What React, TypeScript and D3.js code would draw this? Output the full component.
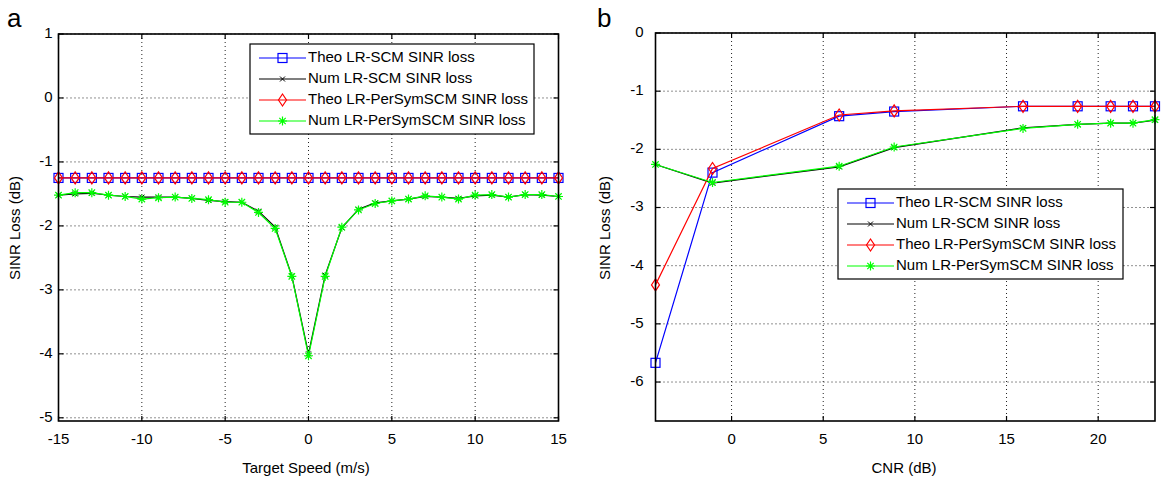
import React from "react";
import * as d3 from "d3";

// panel a: SINR loss vs target speed
const speeds = d3.range(-15, 16);
const theoA = speeds.map(() => -1.25);
const numScmA = [-1.52, -1.5, -1.49, -1.52, -1.54, -1.55, -1.55, -1.55, -1.57, -1.6, -1.62, -1.63, -1.77, -2.02, -2.78, -4.0, -2.77, -2.03, -1.74, -1.64, -1.61, -1.58, -1.54, -1.55, -1.57, -1.53, -1.52, -1.55, -1.51, -1.52, -1.54];
const numPsA = [-1.52, -1.48, -1.48, -1.52, -1.54, -1.58, -1.56, -1.55, -1.57, -1.59, -1.63, -1.63, -1.79, -2.04, -2.79, -4.03, -2.79, -2.02, -1.75, -1.65, -1.61, -1.58, -1.53, -1.55, -1.58, -1.52, -1.51, -1.55, -1.51, -1.51, -1.54];

// panel b: SINR loss vs CNR
const cnr = [-4.15, -1.04, 5.87, 8.87, 15.9, 18.88, 20.68, 21.9, 23.1];
const theoScmB = [-5.67, -2.4, -1.43, -1.35, -1.26, -1.26, -1.26, -1.26, -1.26];
const theoPsB = [-4.33, -2.33, -1.41, -1.34, -1.26, -1.26, -1.26, -1.26, -1.26];
const numScmB = [-2.26, -2.58, -2.3, -1.97, -1.63, -1.57, -1.55, -1.55, -1.5];
const numPsB = [-2.26, -2.57, -2.29, -1.96, -1.64, -1.57, -1.55, -1.55, -1.49];

const seriesNames = [
  "Theo LR-SCM SINR loss",
  "Num LR-SCM SINR loss",
  "Theo LR-PerSymSCM SINR loss",
  "Num LR-PerSymSCM SINR loss",
];
const seriesColors = ["#0000ff", "#000000", "#ff0000", "#00ff00"];
const seriesMarkers = ["square", "x", "diamond", "star"];

const FONT = "Arial, 'Liberation Sans', Helvetica, sans-serif";
const FS = 15;

const Marker = ({ kind, x, y, color }) => {
  if (kind === "square")
    return <rect x={x - 4.5} y={y - 4.5} width={9} height={9} fill="none" stroke={color} strokeWidth={1.2} />;
  if (kind === "diamond")
    return <path d={`M${x},${y - 6}L${x + 4},${y}L${x},${y + 6}L${x - 4},${y}Z`} fill="none" stroke={color} strokeWidth={1.2} />;
  if (kind === "x")
    return (
      <path d={`M${x - 2.5},${y - 2.5}L${x + 2.5},${y + 2.5}M${x - 2.5},${y + 2.5}L${x + 2.5},${y - 2.5}`} stroke={color} strokeWidth={1} />
    );
  // star (asterisk)
  return (
    <path
      d={`M${x - 4.5},${y}L${x + 4.5},${y}M${x},${y - 4.5}L${x},${y + 4.5}M${x - 3.2},${y - 3.2}L${x + 3.2},${y + 3.2}M${x - 3.2},${y + 3.2}L${x + 3.2},${y - 3.2}`}
      stroke={color}
      strokeWidth={1.2}
    />
  );
};

const Panel = ({ letter, letterX, box, xDomain, yDomain, xTicks, yTicks, xs, series, xLabel, xLabelX, yLabelX, yTickGap, legend }) => {
  const [l, t, r, b] = box;
  const x = d3.scaleLinear().domain(xDomain).range([l, r]);
  const y = d3.scaleLinear().domain(yDomain).range([b, t]);
  const line = d3
    .line<number>()
    .x((_, i) => x(xs[i]))
    .y((d) => y(d));

  return (
    <g fontFamily={FONT}>
      <text x={letterX} y={27} fontSize={26}>{letter}</text>
      {/* grid */}
      {xTicks.map((v) => (
        <line key={"gx" + v} x1={x(v)} x2={x(v)} y1={t} y2={b} stroke="#222" strokeWidth={1} strokeDasharray="1,3" />
      ))}
      {yTicks.map((v) => (
        <line key={"gy" + v} x1={l} x2={r} y1={y(v)} y2={y(v)} stroke="#222" strokeWidth={1} strokeDasharray="1,3" />
      ))}
      {/* series */}
      {series.map((s, k) => (
        <g key={"s" + k}>
          <path d={line(s) || ""} fill="none" stroke={seriesColors[k]} strokeWidth={1.2} />
          {s.map((d, i) => (
            <Marker key={i} kind={seriesMarkers[k]} x={x(xs[i])} y={y(d)} color={seriesColors[k]} />
          ))}
        </g>
      ))}
      {/* box + ticks */}
      <rect x={l} y={t} width={r - l} height={b - t} fill="none" stroke="#000" strokeWidth={1.6} />
      {xTicks.map((v) => (
        <g key={"tx" + v}>
          <line x1={x(v)} x2={x(v)} y1={b} y2={b - 5} stroke="#000" strokeWidth={1.2} />
          <line x1={x(v)} x2={x(v)} y1={t} y2={t + 5} stroke="#000" strokeWidth={1.2} />
          <text x={x(v)} y={440} fontSize={FS} textAnchor="middle" dominantBaseline="middle">{v}</text>
        </g>
      ))}
      {yTicks.map((v) => (
        <g key={"ty" + v}>
          <line x1={l} x2={l + 5} y1={y(v)} y2={y(v)} stroke="#000" strokeWidth={1.2} />
          <line x1={r} x2={r - 5} y1={y(v)} y2={y(v)} stroke="#000" strokeWidth={1.2} />
          <text x={l - yTickGap} y={y(v)} fontSize={FS} textAnchor="end" dominantBaseline="middle">{v}</text>
        </g>
      ))}
      <text x={xLabelX} y={469} fontSize={FS} textAnchor="middle" dominantBaseline="middle">{xLabel}</text>
      <text transform={`translate(${yLabelX},228) rotate(-90)`} fontSize={FS} textAnchor="middle" dominantBaseline="middle">
        SINR Loss (dB)
      </text>
      {/* legend */}
      <g transform={`translate(${legend[0]},${legend[1]})`}>
        <rect x={0} y={0} width={legend[2]} height={90} fill="#fff" stroke="#000" strokeWidth={1.2} />
        {seriesNames.map((name, k) => (
          <g key={name} transform={`translate(0,${14 + k * 21})`}>
            <line x1={9} x2={56} y1={0} y2={0} stroke={seriesColors[k]} strokeWidth={1.2} />
            <Marker kind={seriesMarkers[k]} x={32.5} y={0} color={seriesColors[k]} />
            <text x={58} y={0} fontSize={FS} dominantBaseline="middle">{name}</text>
          </g>
        ))}
      </g>
    </g>
  );
};

export default function App() {
  return (
    <svg width={1161} height={480} style={{ position: "absolute", left: 0, top: 0, background: "#fff" }}>
      <Panel
        letter="a"
        letterX={7}
        box={[58.5, 34, 558.5, 421]}
        xDomain={[-15, 15]}
        yDomain={[-5.05, 1]}
        xTicks={[-15, -10, -5, 0, 5, 10, 15]}
        yTicks={[-5, -4, -3, -2, -1, 0, 1]}
        xs={speeds}
        series={[theoA, numScmA, theoA, numPsA]}
        xLabel="Target Speed (m/s)"
        xLabelX={306}
        yLabelX={16}
        yTickGap={6}
        legend={[250, 44, 284]}
      />
      <Panel
        letter="b"
        letterX={597}
        box={[655.5, 33, 1155, 421]}
        xDomain={[-4.15, 23.1]}
        yDomain={[-6.67, 0]}
        xTicks={[0, 5, 10, 15, 20]}
        yTicks={[-6, -5, -4, -3, -2, -1, 0]}
        xs={cnr}
        series={[theoScmB, numScmB, theoPsB, numPsB]}
        xLabel="CNR (dB)"
        xLabelX={904}
        yLabelX={606}
        yTickGap={12}
        legend={[838, 189, 285]}
      />
    </svg>
  );
}
